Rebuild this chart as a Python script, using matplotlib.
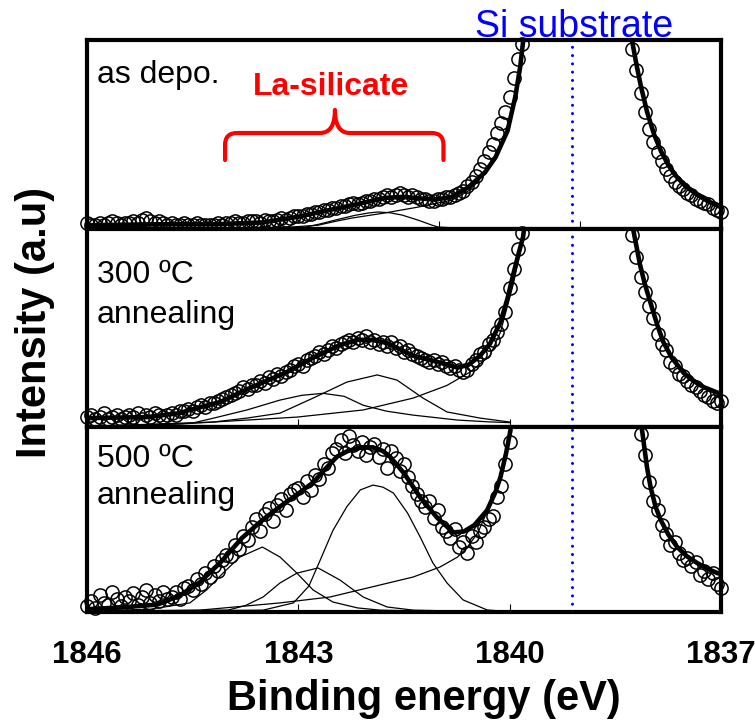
"""
XPS Si 1s region: as-deposited, 300 C and 500 C annealed La-silicate films.
"""

import numpy as np
import matplotlib
matplotlib.use('Agg')
import matplotlib.pyplot as plt
from matplotlib.path import Path
from matplotlib.patches import PathPatch

plt.rcParams['font.family'] = ['Liberation Sans', 'DejaVu Sans']

# ============================================================
# Data (intensity in a.u., each panel scaled 0-100)
# ============================================================

# scans: (start eV, end eV, number of points)
scan_left = (1846.0, 1839.82, 104)
scan_left_500 = (1846.0, 1840.0, 101)
scan_right = (1838.26, 1837.0, 22)
scan_right_500 = (1838.14, 1837.0, 20)

# --- as depo. ---
dep_left = [3, 2, 2, 3, 2, 3, 4, 3, 2, 3,
            3, 4, 3, 5, 6, 4, 3, 4, 3, 2,
            3, 2, 2, 3, 2, 2, 3, 2, 2, 2,
            2, 3, 2, 3, 3, 4, 3, 3, 4, 4,
            4, 3, 5, 4, 4, 5, 6, 5, 6, 7,
            7, 7, 8, 8, 9, 9, 10, 10, 11, 11,
            12, 12, 13, 14, 13, 14, 15, 15, 16, 16,
            17, 18, 17, 18, 19, 18, 17, 18, 17, 16,
            16, 15, 15, 16, 16, 17, 17, 18, 19, 20,
            23, 25, 28, 32, 36, 41, 45, 51, 56, 62,
            70, 80, 90, 98]
dep_right = [95, 84, 72, 62, 53, 46, 41, 36, 32, 28, 25,
             23, 21, 19, 18, 16, 15, 14, 13, 11, 10, 9]
dep_fit_e = [1846.0, 1845.0, 1844.2, 1843.5, 1843.0, 1842.5, 1842.0, 1841.77,
             1841.5, 1841.3, 1841.06, 1840.82, 1840.59, 1840.35, 1840.2,
             1840.03, 1839.92, 1839.85, 1839.81, 1839.75]
dep_fit_y = [2, 2.5, 2.5, 3.5, 6.5, 10.5, 14.5, 16.5, 17, 16.3, 15.5, 17, 22,
             30, 38, 52, 70, 86, 99, 115]
dep_fitr_e = [1838.32, 1838.26, 1838.20, 1838.14, 1838.05, 1837.95, 1837.85,
              1837.75, 1837.65, 1837.5, 1837.35, 1837.2, 1837.0]
dep_fitr_y = [115, 99, 87, 76, 62, 50, 41, 34, 28.5, 22.5, 18.5, 15, 11.5]
dep_comp_e = [[1846.0, 1843.2, 1842.9, 1842.7, 1842.48, 1842.2, 1842.0, 1841.87,
               1841.7, 1841.53, 1841.3, 1841.1, 1841.01, 1840.6],
              [1846.0, 1844.0, 1843.2, 1842.72, 1842.48, 1842.24, 1841.77,
               1841.3, 1840.82, 1840.59, 1840.45]]
dep_comp_y = [[0.3, 0.4, 1, 2.6, 4.7, 7.2, 8.5, 9, 8.6, 7.4, 4.7, 2, 1, 0.3],
              [0.3, 0.5, 0.8, 2, 4, 5.8, 8.5, 11.6, 15.3, 20, 25]]

# --- 300 C annealing ---
a300_left = [5, 6, 4, 5, 7, 4, 5, 6, 4, 5,
             6, 5, 7, 4, 6, 5, 7, 6, 5, 6,
             7, 6, 8, 8, 9, 8, 10, 11, 10, 12,
             12, 13, 14, 15, 16, 17, 18, 20, 19, 21,
             21, 23, 22, 25, 24, 27, 26, 28, 29, 31,
             32, 31, 34, 35, 36, 38, 37, 39, 41, 40,
             42, 43, 44, 43, 45, 44, 46, 43, 44, 42,
             43, 41, 43, 40, 41, 38, 39, 37, 36, 35,
             34, 33, 34, 32, 33, 31, 30, 31, 29, 28,
             29, 32, 34, 37, 38, 42, 44, 48, 52, 58,
             70, 80, 90, 98]
a300_right = [97, 86, 76, 68, 61, 55, 47, 42, 39, 33, 31,
              27, 26, 23, 21, 20, 18, 16, 15, 13, 12, 13]
a300_fit_e = [1846.0, 1845.15, 1844.68, 1844.54, 1844.11, 1843.73, 1843.16,
              1842.79, 1842.41, 1842.16, 1841.95, 1841.74, 1841.37, 1840.99,
              1840.74, 1840.58, 1840.42, 1840.28, 1840.13, 1840.03, 1839.95,
              1839.87, 1839.81, 1839.76]
a300_fit_y = [4.5, 5, 7, 8.6, 12.6, 19, 27.8, 35, 41.4, 44, 44, 42.4, 36, 32.5,
              30, 31.5, 36, 42, 53, 65, 77, 88, 96, 110]
a300_fitr_e = [1838.30, 1838.24, 1838.15, 1838.08, 1838.0, 1837.9, 1837.82,
               1837.7, 1837.53, 1837.4, 1837.25, 1837.04, 1837.0]
a300_fitr_y = [112, 98.5, 82, 72, 62.6, 51, 43, 35, 27.3, 23.5, 20.2, 17.2, 16.8]
a300_comp_e = [[1846.0, 1845.0, 1844.5, 1844.2, 1843.73, 1843.26, 1842.95,
                1842.65, 1842.35, 1842.08, 1841.75, 1841.37, 1840.74, 1840.3,
                1840.0],
               [1846.0, 1844.21, 1843.73, 1843.26, 1842.79, 1842.31, 1841.88,
                1841.6, 1841.23, 1840.89, 1840.42, 1840.0],
               [1846.0, 1844.68, 1843.02, 1842.08, 1841.37, 1840.89, 1840.56,
                1840.28, 1840.13, 1839.95, 1839.81, 1839.76]]
a300_comp_y = [[0.3, 1, 2, 4.5, 8.6, 13.6, 16, 17, 15.5, 11, 8, 6, 3.5, 2.6, 2.2],
               [0.3, 2.5, 4.5, 7, 14.6, 22.7, 26.3, 23.7, 14.6, 7.6, 4.5, 2.5],
               [0.5, 1.5, 5, 8.6, 14.6, 21, 27.8, 36, 48, 72, 95, 110]]

# --- 500 C annealing ---
a500_left = [3, 6, 2, 9, 5, 4, 11, 7, 3, 8,
             6, 10, 4, 8, 12, 5, 9, 6, 11, 7,
             8, 11, 7, 13, 14, 12, 18, 15, 21, 19,
             25, 22, 28, 31, 30, 36, 34, 41, 39, 46,
             50, 44, 53, 56, 49, 58, 61, 55, 64, 66,
             67, 62, 71, 66, 74, 72, 80, 78, 86, 88,
             93, 86, 95, 90, 87, 92, 85, 89, 91, 84,
             88, 78, 87, 83, 76, 80, 73, 68, 64, 60,
             57, 60, 51, 55, 46, 44, 40, 45, 35, 38,
             32, 41, 38, 44, 46, 50, 52, 62, 68, 80,
             92]
a500_right = [96, 85, 70, 60, 55, 47, 42, 36, 38, 32,
              28, 29, 25, 27, 20, 22, 18, 21, 15, 13]
a500_fit_e = [1846.0, 1845.5, 1845.0, 1844.68, 1844.4, 1844.1, 1843.8, 1843.5,
              1843.26, 1843.0, 1842.79, 1842.6, 1842.45, 1842.3, 1842.1, 1841.94,
              1841.8, 1841.7, 1841.5, 1841.27, 1841.03, 1840.8, 1840.65, 1840.5,
              1840.32, 1840.2, 1840.13, 1840.05, 1839.99, 1839.95]
a500_fit_y = [1.5, 2.5, 4, 9, 16, 27, 40, 50, 57, 64, 70, 78, 84, 87, 89, 89,
              87, 84, 75, 62, 51, 43, 43.5, 47, 55, 65, 73, 86, 98, 110]
a500_fitr_e = [1838.2, 1838.12, 1838.05, 1838.0, 1837.93, 1837.86, 1837.75,
               1837.62, 1837.48, 1837.34, 1837.2, 1837.05, 1837.0]
a500_fitr_y = [112, 98, 78, 67.5, 57, 50, 42, 35, 30, 26.5, 23.5, 21, 20.5]
a500_comp_e = [[1846.0, 1845.1, 1844.54, 1844.3, 1844.07, 1843.83, 1843.51,
                1843.26, 1843.02, 1842.79, 1842.51, 1842.16, 1841.84, 1841.0],
               [1846.0, 1844.0, 1843.75, 1843.5, 1843.26, 1843.02, 1842.72,
                1842.41, 1842.08, 1841.74, 1841.37, 1840.5],
               [1846.0, 1843.5, 1843.07, 1842.85, 1842.69, 1842.51, 1842.31,
                1842.12, 1841.94, 1841.8, 1841.65, 1841.45, 1841.27, 1841.09,
                1840.89, 1840.66, 1840.32, 1840.05],
               [1846.0, 1844.4, 1843.26, 1842.55, 1841.84, 1841.37, 1840.99,
                1840.74, 1840.6, 1840.45, 1840.3, 1840.15, 1840.05, 1839.97,
                1839.93]]
a500_comp_y = [[0.5, 1.5, 4.9, 12, 21, 29.7, 35.1, 29.7, 21, 11.9, 5.4, 2.2, 1, 0.3],
               [0.3, 1, 3.5, 8.1, 15.7, 21, 23.8, 17.3, 8.1, 2.7, 1, 0.3],
               [0.2, 1, 4.9, 14, 28, 44, 57, 66, 68.6, 67.5, 64.3, 53.5, 40.5,
                26.5, 15.7, 6.5, 1.1, 0.3],
               [0.5, 1, 4.9, 8.1, 14.6, 18.9, 24.3, 29.7, 35, 43, 56, 72, 88,
                104, 112]]

si_substrate = 1839.12
x_ticks = [1846, 1843, 1840, 1837]

panels = [
    dict(label=['as depo.'], scans=(scan_left, scan_right),
         data=(dep_left, dep_right), fit=(dep_fit_e, dep_fit_y, dep_fitr_e, dep_fitr_y),
         comps=(dep_comp_e, dep_comp_y), ticks=[1841, 1839],
         text_y=[0.772]),
    dict(label=['300 ºC', 'annealing'], scans=(scan_left, scan_right),
         data=(a300_left, a300_right), fit=(a300_fit_e, a300_fit_y, a300_fitr_e, a300_fitr_y),
         comps=(a300_comp_e, a300_comp_y), ticks=x_ticks,
         text_y=[0.727, 0.525]),
    dict(label=['500 ºC', 'annealing'], scans=(scan_left_500, scan_right_500),
         data=(a500_left, a500_right), fit=(a500_fit_e, a500_fit_y, a500_fitr_e, a500_fitr_y),
         comps=(a500_comp_e, a500_comp_y), ticks=x_ticks,
         text_y=[0.784, 0.585]),
]

# ============================================================
# Figure
# ============================================================

fig = plt.figure(figsize=(7.55, 7.21), dpi=100)
gs = fig.add_gridspec(3, 1, height_ratios=[189, 198, 185], hspace=0,
                      left=0.1152, right=0.955, top=0.9445, bottom=0.1512)

for i, p in enumerate(panels):
    ax = fig.add_subplot(gs[i])
    (sl, sr) = p['scans']
    e_left = np.linspace(*sl)
    e_right = np.linspace(*sr)

    # components
    for ce, cy in zip(*p['comps']):
        ax.plot(ce, cy, color='black', lw=0.9, zorder=2)

    # envelope
    fe, fy, fre, fry = p['fit']
    ax.plot(fe, fy, color='black', lw=3.3, zorder=4, solid_joinstyle='round')
    ax.plot(fre, fry, color='black', lw=3.3, zorder=4, solid_joinstyle='round')

    # measured points
    dl, dr = p['data']
    for e, y in ((e_left, dl), (e_right, dr)):
        ax.plot(e, y, 'o', mfc='none', mec='black', ms=9.5, mew=1.1,
                clip_on=False, zorder=3)

    ax.axvline(si_substrate, color='#0000ff', lw=2.2, ls=(0, (0.01, 2.7)),
               dash_capstyle='round', zorder=5)

    for txt, ty in zip(p['label'], p['text_y']):
        ax.text(0.016, ty, txt, transform=ax.transAxes, fontsize=23,
                va='baseline', ha='left')

    ax.set_xlim(1846, 1837)
    ax.set_ylim(0, 100)
    ax.set_yticks([])
    for s in ax.spines.values():
        s.set_linewidth(3)
    ax.tick_params(axis='x', direction='in', length=6, width=0.8, top=False,
                   labelbottom=False)
    if i == 2:
        ax.set_xticks(x_ticks, labels=[str(t) for t in x_ticks],
                      fontsize=22.5, fontweight='bold')
        ax.tick_params(axis='x', labelbottom=True, pad=20)
    else:
        ax.set_xticks(p['ticks'])

    if i == 0:
        ax.text(1842.53, 70.9, 'La-silicate', color='#ff0000', fontsize=23,
                fontweight='bold', ha='center', va='baseline')
        # curly brace under the label
        xl, xr, xc = 1844.04, 1840.94, 1842.48
        yb, yh, yt = 36.5, 50.8, 63
        verts = [(xl, yb), (xl, 44.5), (xl, yh), (xl - 0.17, yh),
                 (xc + 0.21, yh), (xc, yh), (xc, yt),
                 (xc, yh), (xc - 0.21, yh),
                 (xr + 0.17, yh), (xr, yh), (xr, 44.5), (xr, yb)]
        codes = [Path.MOVETO, Path.LINETO, Path.CURVE3, Path.CURVE3,
                 Path.LINETO, Path.CURVE3, Path.CURVE3,
                 Path.CURVE3, Path.CURVE3,
                 Path.LINETO, Path.CURVE3, Path.CURVE3, Path.LINETO]
        ax.add_patch(PathPatch(Path(verts, codes), fill=False, edgecolor='#ff0000',
                               lw=3, capstyle='round', joinstyle='round'))

fig.text(574.5 / 755, 1 - 37 / 721, 'Si substrate', color='#0000ff', fontsize=27,
         ha='center', va='baseline')
fig.text(35 / 755, 0.553, 'Intensity (a.u)', fontsize=30, fontweight='bold',
         rotation=90, ha='center', va='center')
fig.text(424 / 755, 1 - 710 / 721, 'Binding energy (eV)', fontsize=30,
         fontweight='bold', ha='center', va='baseline')

fig.savefig('out.png', dpi=100)
